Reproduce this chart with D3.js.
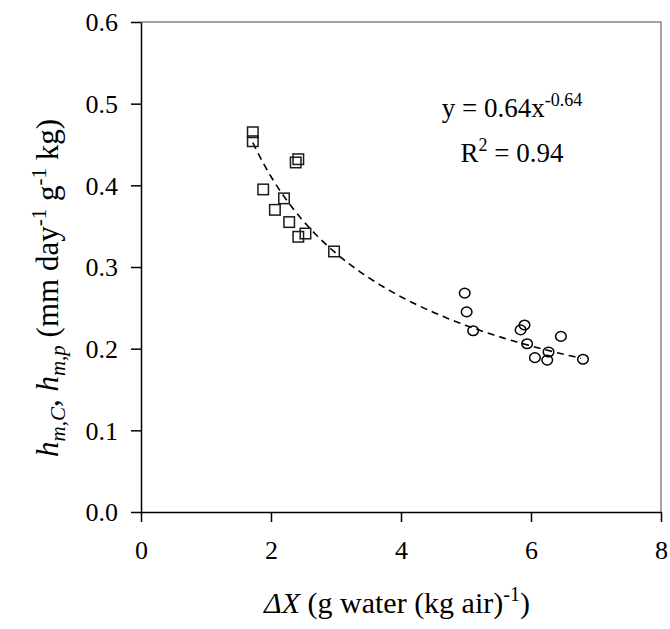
<!DOCTYPE html>
<meta charset="utf-8">
<style>
body { margin: 0; background: white; }
text { font-family: "Liberation Serif", "Times New Roman", serif; fill: #000; }
</style>
<body>
<script src="https://d3js.org/d3.v7.min.js"></script>
<script>
// data
var squareX = [1.72, 1.72, 2.38, 2.42, 1.88, 2.20, 2.06, 2.28, 2.53, 2.42, 2.97];
var squareY = [0.465, 0.454, 0.428, 0.432, 0.395, 0.384, 0.370, 0.355, 0.341, 0.337, 0.319];
var circleX = [4.98, 5.01, 5.11, 5.90, 5.84, 5.94, 6.06, 6.25, 6.27, 6.46, 6.80];
var circleY = [0.268, 0.245, 0.222, 0.229, 0.223, 0.206, 0.189, 0.186, 0.196, 0.215, 0.187];
var fitA = 0.64, fitB = -0.64;
var fitRange = [1.72, 6.8];
var xTicks = [0, 2, 4, 6, 8];
var yTicks = [0.0, 0.1, 0.2, 0.3, 0.4, 0.5, 0.6];

var width = 670, height = 629;
var mLeft = 141, mRight = 661, mTop = 22, mBottom = 512;

var x = d3.scaleLinear().domain([0, 8]).range([mLeft, mRight]);
var y = d3.scaleLinear().domain([0, 0.6]).range([mBottom, mTop]);

var svg = d3.select("body").append("svg")
    .attr("width", width)
    .attr("height", height);

// top and right frame in gray
svg.append("path")
    .attr("d", "M" + mLeft + "," + mTop + "H" + mRight + "V" + mBottom)
    .attr("fill", "none")
    .attr("stroke", "#858585")
    .attr("stroke-width", 1.5);

// axes
var xAxis = svg.append("g")
    .attr("transform", "translate(0," + mBottom + ")")
    .call(d3.axisBottom(x).tickValues(xTicks).tickFormat(d3.format("d")).tickSize(10).tickSizeOuter(0));
var yAxis = svg.append("g")
    .attr("transform", "translate(" + mLeft + ",0)")
    .call(d3.axisLeft(y).tickValues(yTicks).tickFormat(d3.format(".1f")).tickSize(10).tickSizeOuter(0));

[xAxis, yAxis].forEach(function(g) {
  g.select(".domain").attr("stroke", "#000").attr("stroke-width", 1.5);
  g.selectAll(".tick line").attr("stroke", "#000").attr("stroke-width", 1.5);
  g.selectAll(".tick text")
      .style("font-family", "'Liberation Serif', 'Times New Roman', serif")
      .style("font-size", "26px")
      .attr("fill", "#000");
});
xAxis.selectAll(".tick text").attr("y", 13).attr("dy", 34);
yAxis.selectAll(".tick text").attr("x", -23).attr("dy", "0.34em");

// fitted power curve
var fitX = d3.range(fitRange[0], fitRange[1] + 0.001, 0.05);
var line = d3.line()
    .x(function(d) { return x(d); })
    .y(function(d) { return y(fitA * Math.pow(d, fitB)); });
svg.append("path")
    .datum(fitX)
    .attr("d", line)
    .attr("fill", "none")
    .attr("stroke", "#000")
    .attr("stroke-width", 1.6)
    .attr("stroke-dasharray", "7,5");

// squares
var sq = 10.5;
svg.selectAll("rect.sq")
    .data(d3.range(squareX.length))
  .enter().append("rect")
    .attr("class", "sq")
    .attr("x", function(i) { return x(squareX[i]) - sq / 2; })
    .attr("y", function(i) { return y(squareY[i]) - sq / 2; })
    .attr("width", sq)
    .attr("height", sq)
    .attr("fill", "none")
    .attr("stroke", "#1a1a1a")
    .attr("stroke-width", 1.5);

// circles
svg.selectAll("ellipse.ci")
    .data(d3.range(circleX.length))
  .enter().append("ellipse")
    .attr("class", "ci")
    .attr("cx", function(i) { return x(circleX[i]); })
    .attr("cy", function(i) { return y(circleY[i]); })
    .attr("rx", 5.3)
    .attr("ry", 4.8)
    .attr("fill", "none")
    .attr("stroke", "#000")
    .attr("stroke-width", 1.5);

// equation
var eq = svg.append("text")
    .attr("x", 512).attr("y", 117)
    .attr("text-anchor", "middle")
    .style("font-size", "27px");
eq.append("tspan").text("y = 0.64x");
eq.append("tspan").attr("dy", -11).style("font-size", "18px").text("-0.64");

var r2 = svg.append("text")
    .attr("x", 512).attr("y", 162)
    .attr("text-anchor", "middle")
    .style("font-size", "27px");
r2.append("tspan").text("R");
r2.append("tspan").attr("dy", -11).style("font-size", "18px").text("2");
r2.append("tspan").attr("dy", 11).text(" = 0.94");

// x title
var xt = svg.append("text")
    .attr("x", 397).attr("y", 613)
    .attr("text-anchor", "middle")
    .style("font-size", "30px");
xt.append("tspan").style("font-style", "italic").text("ΔX");
xt.append("tspan").text(" (g water (kg air)");
xt.append("tspan").attr("dy", -12).style("font-size", "20px").text("-1");
xt.append("tspan").attr("dy", 12).text(")");

// y title
var yt = svg.append("text")
    .attr("transform", "translate(58,288) rotate(-90)")
    .attr("text-anchor", "middle")
    .style("font-size", "31px");
yt.append("tspan").style("font-style", "italic").text("h");
yt.append("tspan").attr("dy", 7).style("font-size", "21px").style("font-style", "italic").text("m,C");
yt.append("tspan").attr("dy", -7).text(", ");
yt.append("tspan").style("font-style", "italic").text("h");
yt.append("tspan").attr("dy", 7).style("font-size", "21px").style("font-style", "italic").text("m,p");
yt.append("tspan").attr("dy", -7).text(" (mm day");
yt.append("tspan").attr("dy", -12).style("font-size", "21px").text("-1");
yt.append("tspan").attr("dy", 12).text(" g");
yt.append("tspan").attr("dy", -12).style("font-size", "21px").text("-1");
yt.append("tspan").attr("dy", 12).text(" kg)");
</script>
</body>
